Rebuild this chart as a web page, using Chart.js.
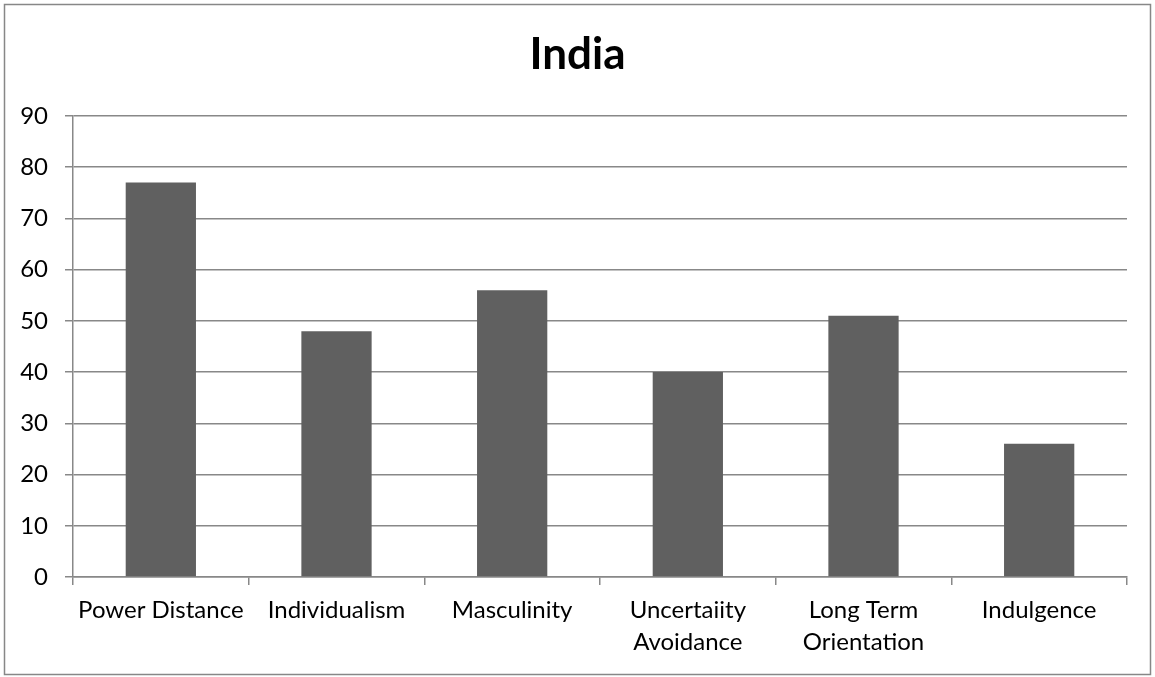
<!DOCTYPE html>
<html>
<head>
<meta charset="utf-8">
<script src="https://cdn.jsdelivr.net/npm/chart.js@4/dist/chart.umd.min.js"></script>
<style>
  html, body { margin: 0; padding: 0; background: #fff; }
  #wrap { position: relative; width: 1155px; height: 677px; }
</style>
</head>
<body>
<div id="wrap"><canvas id="c" width="1155" height="677"></canvas></div>
<script>
// Hofstede cultural dimension scores
const categories = [
  'Power Distance',
  'Individualism',
  'Masculinity',
  ['Uncertaiity', 'Avoidance'],
  ['Long Term', 'Orientation'],
  'Indulgence'
];
const scores = [77, 48, 56, 40, 51, 26];
const yTicks = [0, 10, 20, 30, 40, 50, 60, 70, 80, 90];

const FONT = 'Lato, "Open Sans", sans-serif';
const GRID = '#888888';

// Outer frame around the whole chart
const framePlugin = {
  id: 'frame',
  beforeDraw(chart) {
    const ctx = chart.ctx;
    ctx.save();
    ctx.fillStyle = '#ffffff';
    ctx.fillRect(0, 0, chart.width, chart.height);
    ctx.strokeStyle = '#878787';
    ctx.lineWidth = 1.5;
    ctx.strokeRect(4.5, 4.5, chart.width - 9, chart.height - 7);
    ctx.restore();
  }
};

new Chart(document.getElementById('c'), {
  type: 'bar',
  data: {
    labels: categories,
    datasets: [{
      data: scores,
      backgroundColor: '#606060',
      borderWidth: 0,
      categoryPercentage: 1.0,
      barPercentage: 0.4
    }]
  },
  options: {
    responsive: false,
    animation: false,
    layout: { padding: { top: 28, right: 14, left: 14, bottom: 0 } },
    plugins: {
      legend: { display: false },
      tooltip: { enabled: false },
      title: {
        display: true,
        text: 'India',
        color: '#000',
        font: { family: FONT, size: 44, weight: 'bold', lineHeight: 1.2 },
        padding: { top: 0, bottom: 35.2 }
      }
    },
    scales: {
      x: {
        grid: {
          offset: true,
          drawOnChartArea: false,
          drawTicks: true,
          tickLength: 8,
          color: GRID,
          lineWidth: 1.5
        },
        border: { display: true, color: GRID, width: 1.5 },
        ticks: {
          color: '#000',
          font: { family: FONT, size: 24, lineHeight: 1.35 },
          padding: 9,
          maxRotation: 0,
          autoSkip: false
        },
        afterFit(scale) { scale.height = 100; }
      },
      y: {
        min: 0,
        max: 90,
        afterBuildTicks(scale) { scale.ticks = yTicks.map(v => ({ value: v })); },
        grid: {
          color: GRID,
          lineWidth: 1.5,
          drawTicks: true,
          tickLength: 8
        },
        border: { display: true, color: GRID, width: 1.5 },
        ticks: {
          color: '#000',
          font: { family: FONT, size: 24 },
          padding: 17
        },
        afterFit(scale) { scale.width = 59; }
      },
      // empty right-hand gutter so the plot ends short of the frame
      gutter: {
        position: 'right',
        display: true,
        min: 0,
        max: 90,
        grid: { display: false, drawTicks: false },
        border: { display: false },
        ticks: { display: false },
        afterFit(scale) { scale.width = 14; }
      }
    }
  },
  plugins: [framePlugin]
});
</script>
</body>
</html>
